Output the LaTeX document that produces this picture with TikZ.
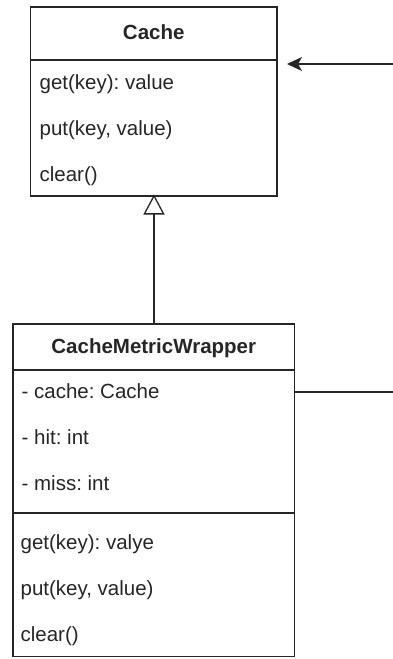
\documentclass[tikz,border=0pt]{standalone}
\usepackage{fontspec}
\setmainfont{Liberation Sans}
\usetikzlibrary{arrows.meta}
\begin{document}
\begin{tikzpicture}[x=1pt,y=-1pt,
  line width=1.3pt,
  umlbox/.style={draw=black!85,line width=1.3pt},
  member/.style={anchor=west,inner sep=0pt,font=\fontsize{20.5}{24}\selectfont\frenchspacing,text=black!85,text height=15pt,text depth=4.5pt},
  title/.style={anchor=center,inner sep=0pt,font=\fontsize{20.5}{24}\selectfont\bfseries\frenchspacing,text=black!85,text height=15pt,text depth=4.5pt},
  conn/.style={draw=black!85,line width=1.3pt}]
\useasboundingbox (0,0) rectangle (393,659);
% Cache class
\draw[umlbox] (30.5,7) rectangle (277,196);
\draw[umlbox] (30.5,60) -- (277,60);
\node[title] (cachetitle) at (153.75,34) {Cache};
\node[member] (cget) at (39,84) {get(key): value};
\node[member] (cput) at (39,130) {put(key, value)};
\node[member] (cclr) at (39,176) {clear()};
\coordinate (cachebot) at (154,196);
\coordinate (cacheright) at (287,64);
% CacheMetricWrapper class
\draw[umlbox] (13,324) rectangle (294.5,656.5);
\draw[umlbox] (13,370) -- (294.5,370);
\draw[umlbox] (13,513) -- (294.5,513);
\node[title] (wtitle) at (153.75,348) {CacheMetricWrapper};
\node[member] (wcache) at (21,393) {- cache: Cache};
\node[member] (whit) at (21,439) {- hit: int};
\node[member] (wmiss) at (21,485) {- miss: int};
\node[member] (wget) at (20,544) {get(key): valye};
\node[member] (wput) at (20,590) {put(key, value)};
\node[member] (wclr) at (20,636) {clear()};
\coordinate (wtop) at (154,324);
\coordinate (wright) at (294.5,392);
\coordinate (edgeA) at (393,392);
\coordinate (edgeB) at (393,64);
% inheritance
\draw[conn,-{Triangle[open,length=20pt,width=21pt,line width=1.3pt]}] (wtop) -- ([yshift=1.5pt]cachebot);
% association pieces
\draw[conn] (wright) -- (edgeA);
\draw[conn,-{Stealth[length=15pt,width=14pt,inset=4pt]}] (edgeB) -- (cacheright);
\end{tikzpicture}
\end{document}
